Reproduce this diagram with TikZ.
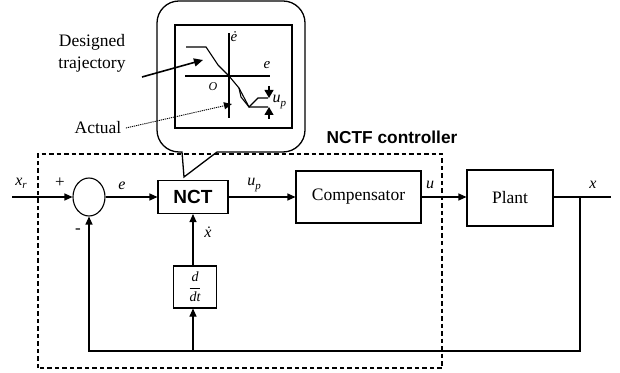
\documentclass[tikz,border=0pt]{standalone}
\usepackage{fontspec}
\setmainfont{Liberation Serif}
\newfontfamily\arialfont{Liberation Sans}
\usetikzlibrary{arrows.meta,shapes.geometric}
\newcommand\lowsub[2]{#1\raisebox{-0.45ex}{\fontsize{11}{12}\selectfont #2}}
\begin{document}
\begin{tikzpicture}[x=1pt,y=1pt,line width=1.1pt,
  blk/.style={draw,line width=1.1pt,inner sep=0pt,font=\fontsize{17.5}{20}\selectfont},
  lbl/.style={inner sep=0pt,font=\fontsize{16}{18}\selectfont\itshape},
  plain/.style={inner sep=0pt,font=\fontsize{17.5}{20}\selectfont},
  sig/.style={-{Triangle[length=8pt,width=7pt]}},
  bandtip/.style={-{Triangle[length=8pt,width=9pt]}}]
\useasboundingbox (0,0) rectangle (620,372);

% speech-bubble callout around the phase-plane sketch
\draw[line width=1.3pt] (184,195) -- (217,220) -- (283,220)
  arc[start angle=-90,end angle=0,radius=22] -- (305,349)
  arc[start angle=0,end angle=90,radius=22] -- (179,371)
  arc[start angle=90,end angle=180,radius=22] -- (157,242)
  arc[start angle=180,end angle=270,radius=22] -- (182,220) -- cycle;

% phase plane
\draw (175,244) rectangle (292,347);
\coordinate (vtop) at (229,339); \coordinate (vbot) at (229,254);
\coordinate (hl) at (185,296); \coordinate (hr) at (270,296);
\draw (vbot) -- (vtop);
\draw (hl) -- (hr);
\node[lbl,font=\fontsize{15}{17}\selectfont\itshape] (edot) at (234,335) {ė};
\node[lbl,font=\fontsize{15}{17}\selectfont\itshape] (eax) at (267,307) {e};
\node[lbl,font=\fontsize{12}{14}\selectfont\itshape] (orig) at (213,285) {O};
\node[lbl,anchor=west] (upp) at (272,270) {\lowsub{u}{p}};
% designed and actual trajectories
\draw (186,325) -- (206,325) -- (218,307) -- (229,296) -- (239,284) -- (249,265) -- (268,265);
\draw (239,284) -- (241,275) -- (249,265) -- (258,274) -- (268,274);
\draw[bandtip] (269,286) -- (269,274);
\draw[bandtip] (269,253) -- (269,265);

% annotations
\node[plain] (des1) at (92,330) {Designed};
\node[plain] (des2) at (92,307) {trajectory};
\node[plain] (act) at (98,244) {Actual};
\coordinate (desend) at (203,312);
\coordinate (actend) at (232,268);
\draw[line width=1.6pt,-{Triangle[length=9pt,width=8pt]}] (142,295) -- (desend);
\draw[line width=0.9pt,dash pattern=on 1.2pt off 0.9pt,-{Triangle[length=8pt,width=7pt]}] ([xshift=4pt]act.east) -- (actend);

% controller boundary
\draw[dash pattern=on 4.5pt off 3pt] (38,4) rectangle (442,218);
\node[inner sep=0pt,font=\arialfont\bfseries\fontsize{17.3}{20}\selectfont] (nctf) at (392,235) {NCTF controller};

% blocks
\node[draw,ellipse,inner sep=0pt,minimum width=32pt,minimum height=38pt] (sum) at (89,175) {};
\node[blk,minimum width=70pt,minimum height=33pt,font=\arialfont\bfseries\fontsize{19}{22}\selectfont] (nct) at (193,175) {NCT};
\node[blk,minimum width=125pt,minimum height=52pt] (comp) at (358.5,175) {Compensator};
\node[blk,minimum width=86pt,minimum height=56pt] (plant) at (510,174) {Plant};
\node[blk,minimum width=43pt,minimum height=42pt,font=\fontsize{14}{16}\selectfont] (dd) at (195,85)
  {${\displaystyle\frac{\textit{d}}{\textit{dt}}}$};

% signal labels
\node[lbl] (xr) at (21,189) {\lowsub{x}{r}};
\node[inner sep=0pt,font=\fontsize{17}{19}\selectfont] (plus) at (60,189) {+};
\node[inner sep=0pt,font=\fontsize{17}{19}\selectfont] (minus) at (78,141) {-};
\node[lbl] (elbl) at (122,186) {e};
\node[lbl] (uplbl) at (254,187) {\lowsub{u}{p}};
\node[lbl] (xdot) at (208,140) {ẋ};
\node[lbl] (ulbl) at (430,187) {u};
\node[lbl] (xlbl) at (593,187) {x};

% connectors
\coordinate (in) at (12,175);
\coordinate (out) at (611,175);
\coordinate (tap) at (580,175);
\coordinate (fbr) at (580,21);
\draw[sig] (in) -- (sum.west);
\draw[sig] (sum.east) -- (nct.west);
\draw[sig] (nct.east) -- (comp.west);
\draw[sig] (comp.east) -- (comp.east -| plant.west);
\draw (plant.east |- out) -- (out);
\draw[sig] (tap) -- (fbr) -- (fbr -| sum.south) -- (sum.south);
\draw[sig] (fbr -| nct.south) -- (dd.south -| nct.south);
\draw[sig] (dd.north -| nct.south) -- (nct.south);
\end{tikzpicture}
\end{document}
